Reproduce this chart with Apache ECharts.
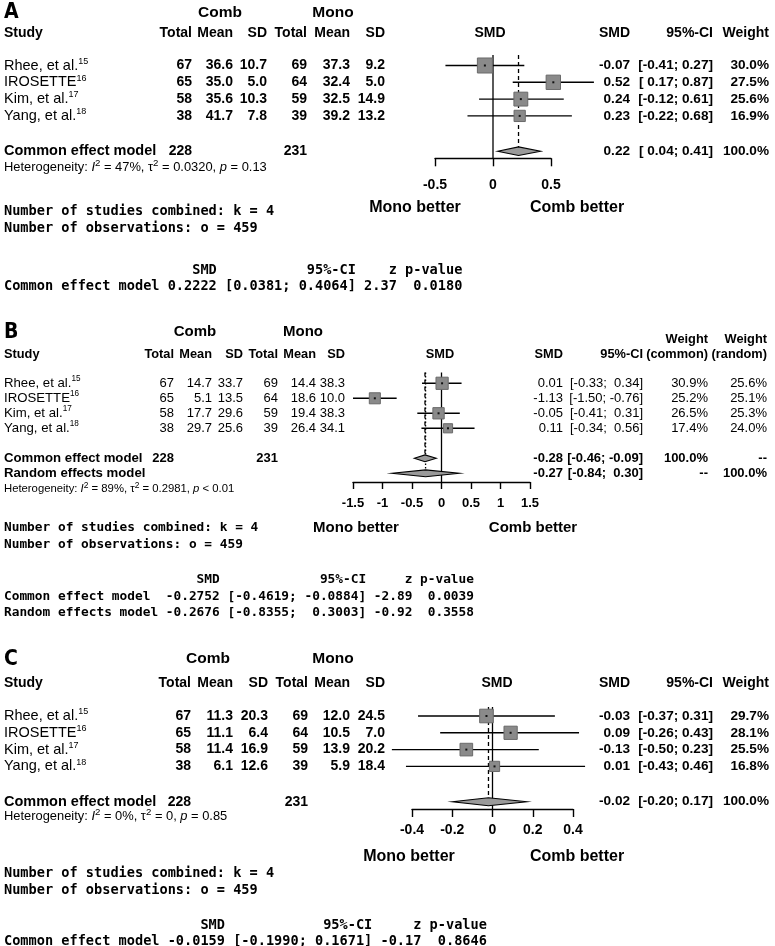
<!DOCTYPE html>
<html>
<head>
<meta charset="UTF-8" />
<title>Forest plots</title>
<script src="https://cdn.jsdelivr.net/npm/echarts@6/dist/echarts.min.js"></script>
<style>
	html, body { margin: 0; padding: 0; background: #fff; }
	#main { width: 775px; height: 946px; }
</style>
</head>
<body>
<div id="main"></div>
<script>
// ---- data ----
var studyNames = ['Rhee, et al.', 'IROSETTE', 'Kim, et al.', 'Yang, et al.'];
var studyRefs = ['15', '16', '17', '18'];
var combTotal = [67, 65, 58, 38];
var monoTotal = [69, 64, 59, 39];
var groupTotals = [228, 231];

// A
var aCombMean = ['36.6', '35.0', '35.6', '41.7'];
var aCombSD = ['10.7', '5.0', '10.3', '7.8'];
var aMonoMean = ['37.3', '32.4', '32.5', '39.2'];
var aMonoSD = ['9.2', '5.0', '14.9', '13.2'];
var aSMD = [-0.07, 0.52, 0.24, 0.23];
var aLower = [-0.41, 0.17, -0.12, -0.22];
var aUpper = [0.27, 0.87, 0.61, 0.68];
var aWeight = [30.0, 27.5, 25.6, 16.9];
var aCommon = [0.22, 0.04, 0.41];
var aHet = ['47%', '0.0320', '= 0.13'];
var aTicks = [-0.5, 0, 0.5];
var aReport = [
	'Number of studies combined: k = 4',
	'Number of observations: o = 459',
	'                       SMD           95%-CI    z p-value',
	'Common effect model 0.2222 [0.0381; 0.4064] 2.37  0.0180'
];

// B
var bCombMean = ['14.7', '5.1', '17.7', '29.7'];
var bCombSD = ['33.7', '13.5', '29.6', '25.6'];
var bMonoMean = ['14.4', '18.6', '19.4', '26.4'];
var bMonoSD = ['38.3', '10.0', '38.3', '34.1'];
var bSMD = [0.01, -1.13, -0.05, 0.11];
var bLower = [-0.33, -1.50, -0.41, -0.34];
var bUpper = [0.34, -0.76, 0.31, 0.56];
var bWeightCommon = [30.9, 25.2, 26.5, 17.4];
var bWeightRandom = [25.6, 25.1, 25.3, 24.0];
var bCommon = [-0.28, -0.46, -0.09];
var bRandom = [-0.27, -0.84, 0.30];
var bHet = ['89%', '0.2981', '< 0.01'];
var bTicks = [-1.5, -1, -0.5, 0, 0.5, 1, 1.5];
var bReport = [
	'Number of studies combined: k = 4',
	'Number of observations: o = 459',
	'                         SMD             95%-CI     z p-value',
	'Common effect model  -0.2752 [-0.4619; -0.0884] -2.89  0.0039',
	'Random effects model -0.2676 [-0.8355;  0.3003] -0.92  0.3558'
];

// C
var cCombMean = ['11.3', '11.1', '11.4', '6.1'];
var cCombSD = ['20.3', '6.4', '16.9', '12.6'];
var cMonoMean = ['12.0', '10.5', '13.9', '5.9'];
var cMonoSD = ['24.5', '7.0', '20.2', '18.4'];
var cSMD = [-0.03, 0.09, -0.13, 0.01];
var cLower = [-0.37, -0.26, -0.50, -0.43];
var cUpper = [0.31, 0.43, 0.23, 0.46];
var cWeight = [29.7, 28.1, 25.5, 16.8];
var cCommon = [-0.02, -0.20, 0.17];
var cHet = ['0%', '0', '= 0.85'];
var cTicks = [-0.4, -0.2, 0, 0.2, 0.4];
var cReport = [
	'Number of studies combined: k = 4',
	'Number of observations: o = 459',
	'                        SMD            95%-CI     z p-value',
	'Common effect model -0.0159 [-0.1990; 0.1671] -0.17  0.8646'
];

// ---- drawing ----
var SANS = "'Liberation Sans', Arial, sans-serif";
var NARROW = "'Liberation Sans Narrow', 'DejaVu Sans Condensed', 'Liberation Sans', sans-serif";
var MONO = "'DejaVu Sans Mono', monospace";

var chart = echarts.init(document.getElementById('main'));
var option = {
	animation: false,
	backgroundColor: '#ffffff',
	grid: [], xAxis: [], yAxis: [], series: [], graphic: []
};

function txt(x, y, s, size, weight, align, family) {
	option.graphic.push({
		type: 'text', x: x, y: y, silent: true,
		style: {
			text: s, fill: '#000',
			font: (weight || 'normal') + ' ' + size + 'px ' + (family || SANS),
			align: align || 'left', verticalAlign: 'middle'
		}
	});
}
function richTxt(x, y, s, rich) {
	option.graphic.push({
		type: 'text', x: x, y: y, silent: true,
		style: { text: s, rich: rich, fill: '#000', align: 'left', verticalAlign: 'middle' }
	});
}
// pad positives with a space when the column also holds negatives (like R does)
function fmtCol(vals) {
	var neg = vals.some(function (v) { return v < 0; });
	return vals.map(function (v) { return (neg && v >= 0 ? ' ' : '') + v.toFixed(2); });
}
function pct(v) { return v.toFixed(1) + '%'; }

function addPanel(p) {
	var gi = option.grid.length;
	var rowY = function (i) { return p.row1 + (i - 1) * p.rowH; };
	var numW = p.numBold ? 'bold' : 'normal';

	// letter & group headers
	txt(4, p.letterY, p.letter, 21, 'bold', 'left', NARROW);
	txt(p.combX, p.groupY, 'Comb', p.groupFs, 'bold', 'center');
	txt(p.monoX, p.groupY, 'Mono', p.groupFs, 'bold', 'center');
	txt(4, p.headY, 'Study', p.headFs, 'bold');
	var c = p.cols;
	[['Total', c[0]], ['Mean', c[1]], ['SD', c[2]], ['Total', c[3]], ['Mean', c[4]], ['SD', c[5]]].forEach(function (h) {
		txt(h[1], p.headY, h[0], p.headFs, 'bold', 'right');
	});
	txt(p.plotHeadX, p.headY, 'SMD', p.headFs, 'bold', 'center');
	txt(p.right[0], p.headY, 'SMD', p.headFs, 'bold', 'right');
	txt(p.right[1], p.headY, '95%-CI', p.headFs, 'bold', 'right');
	p.weightHeads.forEach(function (wh, k) {
		if (wh.length === 1) {
			txt(p.right[2 + k], p.headY, wh[0], p.headFs, 'bold', 'right');
		} else {
			txt(p.right[2 + k], p.headY - 15, wh[0], p.headFs, 'bold', 'right');
			txt(p.right[2 + k], p.headY, wh[1], p.headFs, 'bold', 'right');
		}
	});

	// summary values included in column formatting
	var allSmd = p.smd.concat(p.summaries.map(function (s) { return s.est[0]; }));
	var allLo = p.lower.concat(p.summaries.map(function (s) { return s.est[1]; }));
	var allHi = p.upper.concat(p.summaries.map(function (s) { return s.est[2]; }));
	var fSmd = fmtCol(allSmd), fLo = fmtCol(allLo), fHi = fmtCol(allHi);

	// study rows
	var rich = {
		n: { fontFamily: SANS, fontSize: p.nameFs, fontWeight: 'normal', lineHeight: p.nameFs + 3 },
		s: { fontFamily: SANS, fontSize: p.nameFs * 0.62, fontWeight: 'normal', verticalAlign: 'top', lineHeight: p.nameFs + 3 }
	};
	studyNames.forEach(function (name, i) {
		var y = rowY(i + 1);
		richTxt(4, y, '{n|' + name + '}{s|' + studyRefs[i] + '}', rich);
		var vals = [combTotal[i], p.combMean[i], p.combSD[i], monoTotal[i], p.monoMean[i], p.monoSD[i]];
		vals.forEach(function (v, k) { txt(c[k], y, String(v), p.numFs, numW, 'right'); });
		txt(p.right[0], y, fSmd[i], p.rightFs, p.rightW, 'right');
		txt(p.right[1], y, '[' + fLo[i] + '; ' + fHi[i] + ']', p.rightFs, p.rightW, 'right');
		p.weights.forEach(function (w, k) { txt(p.right[2 + k], y, pct(w[i]), p.rightFs, p.rightW, 'right'); });
	});

	// summary rows
	p.summaries.forEach(function (s, j) {
		var y = rowY(s.row);
		var n = p.smd.length + j;
		txt(4, y, s.label, p.nameFs, 'bold');
		if (s.totals) {
			txt(c[0], y, String(groupTotals[0]), p.numFs, 'bold', 'right');
			txt(c[3], y, String(groupTotals[1]), p.numFs, 'bold', 'right');
		}
		txt(p.right[0], y, fSmd[n], p.rightFs, 'bold', 'right');
		txt(p.right[1], y, '[' + fLo[n] + '; ' + fHi[n] + ']', p.rightFs, 'bold', 'right');
		s.w.forEach(function (w, k) { txt(p.right[2 + k], y, w, p.rightFs, 'bold', 'right'); });
	});

	// heterogeneity
	var hf = p.hetFs;
	richTxt(4, p.hetY,
		'{n|Heterogeneity: }{i|I}{s|2}{n| = ' + p.het[0] + ', τ}{s|2}{n| = ' + p.het[1] + ', }{i|p}{n| ' + p.het[2] + '}',
		{
			n: { fontFamily: SANS, fontSize: hf, lineHeight: hf + 4 },
			i: { fontFamily: SANS, fontSize: hf, fontStyle: 'italic', lineHeight: hf + 4 },
			s: { fontFamily: SANS, fontSize: hf * 0.75, verticalAlign: 'top', lineHeight: hf + 4 }
		});

	// better labels
	txt(p.betterMonoX, p.betterY, 'Mono better', p.betterFs, 'bold', 'center');
	txt(p.betterCombX, p.betterY, 'Comb better', p.betterFs, 'bold', 'center');

	// R console report
	p.report.forEach(function (line, k) { txt(4, p.reportY[k], line, p.monoFs, 'bold', 'left', MONO); });

	// plot area
	var yMin = 1 + (p.plotTop - p.row1) / p.rowH;
	var yMax = 1 + (p.axisY - p.row1) / p.rowH;
	option.grid.push({ left: p.plotLeft, top: p.plotTop, width: p.plotW, height: p.axisY - p.plotTop, outerBoundsMode: 'none' });
	option.xAxis.push({
		gridIndex: gi, type: 'value',
		min: p.ticks[0], max: p.ticks[p.ticks.length - 1], interval: p.ticks[1] - p.ticks[0],
		axisLine: { show: true, onZero: false, lineStyle: { color: '#000', width: 1.4 } },
		axisTick: { show: true, length: p.tickLen, lineStyle: { color: '#000', width: 1.4 } },
		axisLabel: {
			show: true, margin: p.labelMargin, color: '#000', fontSize: p.tickFs, fontWeight: 'bold',
			fontFamily: SANS, showMinLabel: true, showMaxLabel: true, hideOverlap: false
		},
		splitLine: { show: false }
	});
	option.yAxis.push({ gridIndex: gi, type: 'value', inverse: true, min: yMin, max: yMax, show: false });

	// reference lines: solid at 0, dashed / dotted down to the pooled diamonds
	var refData = [[0, 0, 0]];
	p.summaries.forEach(function (s) { refData.push([s.est[0], s.dash, s.row]); });
	option.series.push({
		type: 'custom', xAxisIndex: gi, yAxisIndex: gi, clip: false, silent: true, z: 1,
		encode: { x: 0, y: 2 },
		data: refData,
		renderItem: function (params, api) {
			var cs = params.coordSys;
			var kind = api.value(1);
			var pt = api.coord([api.value(0), api.value(2)]);
			var yEnd = kind === 0 ? cs.y + cs.height : pt[1] - p.diamondH;
			var st = { stroke: '#000', lineWidth: 1.3 };
			if (kind === 1) st.lineDash = [4, 3];
			if (kind === 2) st.lineDash = [1.5, 2];
			return { type: 'line', shape: { x1: pt[0], y1: cs.y, x2: pt[0], y2: yEnd }, style: st };
		}
	});

	// study CIs and boxes
	var studyData = p.smd.map(function (v, i) { return [v, p.lower[i], p.upper[i], p.weights[0][i], i + 1]; });
	option.series.push({
		type: 'custom', xAxisIndex: gi, yAxisIndex: gi, clip: false, silent: true, z: 3,
		encode: { x: [0, 1, 2], y: 4 },
		data: studyData,
		renderItem: function (params, api) {
			var y = api.value(4);
			var a = api.coord([api.value(1), y]);
			var b = api.coord([api.value(2), y]);
			var m = api.coord([api.value(0), y]);
			var s = p.boxScale * Math.sqrt(api.value(3));
			return {
				type: 'group', children: [
					{ type: 'line', shape: { x1: a[0], y1: a[1], x2: b[0], y2: b[1] }, style: { stroke: '#000', lineWidth: 1.4 } },
					{ type: 'rect', shape: { x: m[0] - s / 2, y: m[1] - s / 2, width: s, height: s }, style: { fill: '#8a8a8a', stroke: '#6a6a6a', lineWidth: 1 } },
					{ type: 'rect', shape: { x: m[0] - 1, y: m[1] - 1, width: 2, height: 2 }, style: { fill: '#111' } }
				]
			};
		}
	});

	// pooled diamonds
	var dData = p.summaries.map(function (s) { return [s.est[0], s.est[1], s.est[2], s.row]; });
	option.series.push({
		type: 'custom', xAxisIndex: gi, yAxisIndex: gi, clip: false, silent: true, z: 4,
		encode: { x: [0, 1, 2], y: 3 },
		data: dData,
		renderItem: function (params, api) {
			var y = api.value(3);
			var m = api.coord([api.value(0), y]);
			var a = api.coord([api.value(1), y]);
			var b = api.coord([api.value(2), y]);
			var h = p.diamondH;
			return {
				type: 'polygon',
				shape: { points: [[a[0], a[1]], [m[0], m[1] - h], [b[0], b[1]], [m[0], m[1] + h]] },
				style: { fill: '#9a9a9a', stroke: '#000', lineWidth: 1.1 }
			};
		}
	});
}

addPanel({
	letter: 'A', letterY: 13, groupY: 13, combX: 220, monoX: 333, groupFs: 15.5,
	headY: 33, headFs: 14, cols: [192, 233, 267, 307, 350, 385],
	row1: 65.5, rowH: 16.8, nameFs: 14.5, numFs: 14, numBold: true,
	combMean: aCombMean, combSD: aCombSD, monoMean: aMonoMean, monoSD: aMonoSD,
	smd: aSMD, lower: aLower, upper: aUpper, weights: [aWeight],
	right: [630, 713, 769], rightFs: 13.6, rightW: 'bold', weightHeads: [['Weight']],
	summaries: [{ label: 'Common effect model', row: 6.1, est: aCommon, dash: 1, totals: true, w: ['100.0%'] }],
	het: aHet, hetY: 167, hetFs: 12.9,
	plotLeft: 435, plotW: 116, plotTop: 55, axisY: 158.3, ticks: aTicks, tickLen: 8, labelMargin: 20, tickFs: 14,
	plotHeadX: 490, boxScale: 2.74, diamondH: 4.3,
	betterY: 208, betterMonoX: 415, betterCombX: 577, betterFs: 16,
	report: aReport, reportY: [211, 228, 270, 286], monoFs: 13.6
});

addPanel({
	letter: 'B', letterY: 333, groupY: 332, combX: 195, monoX: 303, groupFs: 15,
	headY: 354, headFs: 12.8, cols: [174, 212, 243, 278, 316, 345],
	row1: 383.3, rowH: 15, nameFs: 13.2, numFs: 13, numBold: false,
	combMean: bCombMean, combSD: bCombSD, monoMean: bMonoMean, monoSD: bMonoSD,
	smd: bSMD, lower: bLower, upper: bUpper, weights: [bWeightCommon, bWeightRandom],
	right: [563, 643, 708, 767], rightFs: 13, rightW: 'normal', weightHeads: [['Weight', '(common)'], ['Weight', '(random)']],
	summaries: [
		{ label: 'Common effect model', row: 6.0, est: bCommon, dash: 1, totals: true, w: ['100.0%', '--'] },
		{ label: 'Random effects model', row: 7, est: bRandom, dash: 2, totals: false, w: ['--', '100.0%'] }
	],
	het: bHet, hetY: 489, hetFs: 11.3,
	plotLeft: 353, plotW: 177, plotTop: 372.5, axisY: 482, ticks: bTicks, tickLen: 7, labelMargin: 15, tickFs: 13,
	plotHeadX: 440, boxScale: 2.2, diamondH: 3.4,
	betterY: 528, betterMonoX: 356, betterCombX: 533, betterFs: 15,
	report: bReport, reportY: [528, 545, 580, 597, 613], monoFs: 12.8
});

addPanel({
	letter: 'C', letterY: 660, groupY: 659, combX: 208, monoX: 333, groupFs: 15.5,
	headY: 683, headFs: 14, cols: [191, 233, 268, 308, 350, 385],
	row1: 716, rowH: 16.8, nameFs: 14.5, numFs: 14, numBold: true,
	combMean: cCombMean, combSD: cCombSD, monoMean: cMonoMean, monoSD: cMonoSD,
	smd: cSMD, lower: cLower, upper: cUpper, weights: [cWeight],
	right: [630, 713, 769], rightFs: 13.6, rightW: 'bold', weightHeads: [['Weight']],
	summaries: [{ label: 'Common effect model', row: 6.1, est: cCommon, dash: 1, totals: true, w: ['100.0%'] }],
	het: cHet, hetY: 816, hetFs: 12.9,
	plotLeft: 412, plotW: 161, plotTop: 707, axisY: 809, ticks: cTicks, tickLen: 8, labelMargin: 14, tickFs: 14,
	plotHeadX: 497, boxScale: 2.5, diamondH: 4,
	betterY: 857, betterMonoX: 409, betterCombX: 577, betterFs: 16,
	report: cReport, reportY: [873, 890, 925, 941], monoFs: 13.6
});

chart.setOption(option);
</script>
</body>
</html>
